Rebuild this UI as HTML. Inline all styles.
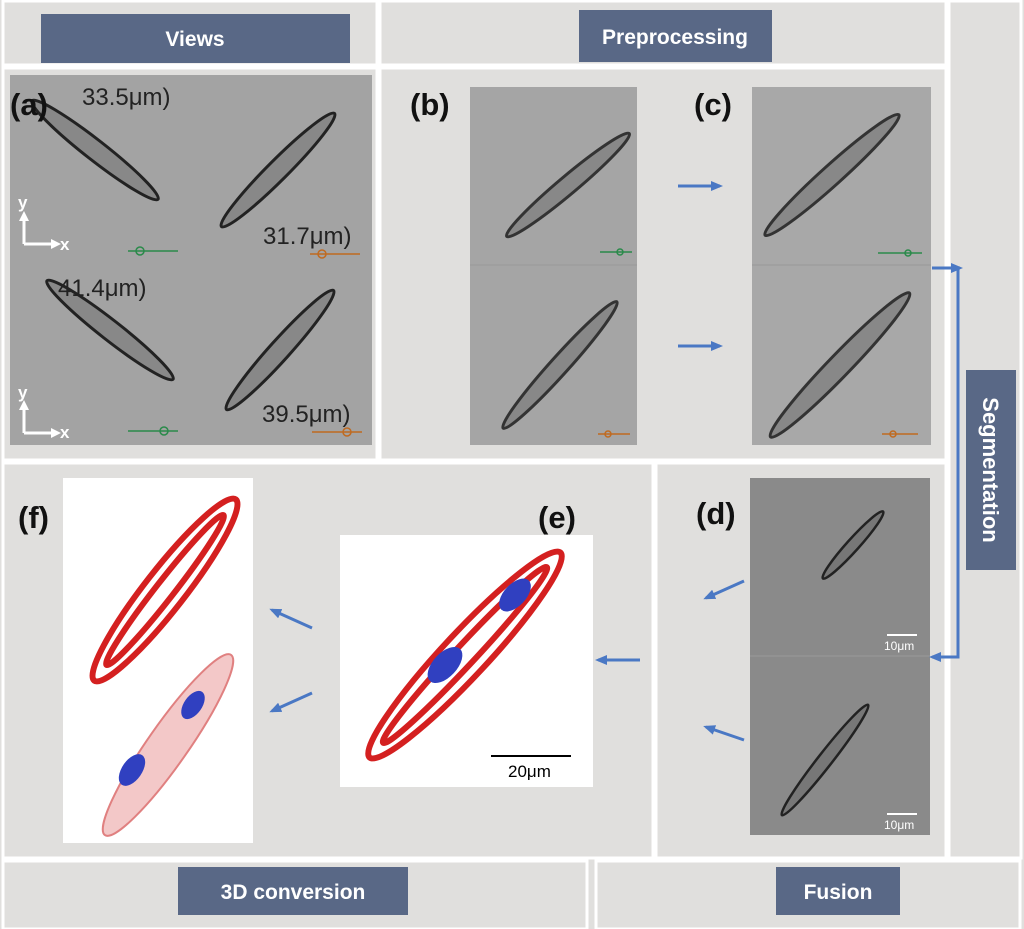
<!DOCTYPE html>
<html><head><meta charset="utf-8"><style>
html,body{margin:0;padding:0;background:#e0dfdd;}
svg{display:block;font-family:"Liberation Sans",Arial,sans-serif;}
</style></head><body>
<svg width="1024" height="929" viewBox="0 0 1024 929">
<rect width="1024" height="929" fill="#e0dfdd"/>
<g fill="none" stroke="#fff" stroke-width="3">
<rect x="3" y="1" width="374" height="64"/>
<rect x="380" y="1" width="566" height="64"/>
<rect x="3" y="68" width="374" height="392"/>
<rect x="380" y="68" width="566" height="392"/>
<rect x="3" y="463" width="650" height="395"/>
<rect x="656" y="463" width="290" height="395"/>
<rect x="3" y="861" width="584" height="68"/>
<rect x="596" y="861" width="424" height="68"/>
<rect x="949" y="1" width="72" height="857"/>
</g>
<g fill="#596886">
<rect x="41" y="14" width="309" height="49"/>
<rect x="579" y="10" width="193" height="52"/>
<rect x="178" y="867" width="230" height="48"/>
<rect x="776" y="867" width="124" height="48"/>
<rect x="966" y="370" width="50" height="200"/>
</g>
<g fill="#fff" font-weight="bold" font-size="21" text-anchor="middle">
<text x="195" y="46">Views</text>
<text x="675" y="44">Preprocessing</text>
<text x="293" y="899">3D conversion</text>
<text x="838" y="899">Fusion</text>
<text transform="translate(983,470) rotate(90)" y="0" font-size="22">Segmentation</text>
</g>
<rect x="10" y="75" width="362" height="370" fill="#a3a3a3"/>
<g stroke="#222" stroke-width="3" fill="#888">
<ellipse cx="95" cy="150" rx="80" ry="10" transform="rotate(38 95 150)"/>
<ellipse cx="278" cy="170" rx="80" ry="10" transform="rotate(-45 278 170)"/>
<ellipse cx="110" cy="330" rx="80" ry="10" transform="rotate(38 110 330)"/>
<ellipse cx="280" cy="350" rx="80" ry="10" transform="rotate(-48 280 350)"/>
</g>
<g font-size="24" fill="#222">
<text x="82" y="105">33.5μm)</text>
<text x="263" y="244">31.7μm)</text>
<text x="58" y="296">41.4μm)</text>
<text x="262" y="422">39.5μm)</text>
</g>
<text x="10" y="115" font-size="31" font-weight="bold" fill="#111">(a)</text>
<defs>
<marker id="ah" markerWidth="12" markerHeight="10" refX="9" refY="5" orient="auto" markerUnits="userSpaceOnUse"><path d="M0 0 L12 5 L0 10 Z" fill="#4a78c4"/></marker>
<marker id="wh" markerWidth="10" markerHeight="10" refX="7" refY="5" orient="auto" markerUnits="userSpaceOnUse"><path d="M0 0 L10 5 L0 10 Z" fill="#fff"/></marker>
</defs>
<g stroke="#fff" stroke-width="3" fill="none" marker-end="url(#wh)">
<path d="M24 244 V214"/><path d="M24 244 H58"/>
<path d="M24 433 V403"/><path d="M24 433 H58"/>
<path d="M487 128 V96"/><path d="M487 98 H520"/>
<path d="M487 324 V292"/><path d="M487 324 H520"/>
</g>
<g fill="#fff" font-weight="bold" font-size="17">
<text x="18" y="208">y</text><text x="60" y="250">x</text>
<text x="18" y="398">y</text><text x="60" y="438">x</text>
<text x="522" y="102">x</text><text x="472" y="123">-y</text>
<text x="480" y="283">y</text><text x="522" y="330">x</text>
</g>
<rect x="470" y="87" width="167" height="358" fill="#a5a5a5"/>
<rect x="752" y="87" width="179" height="358" fill="#a8a8a8"/>
<line x1="470" y1="265" x2="637" y2="265" stroke="#999"/>
<line x1="752" y1="265" x2="931" y2="265" stroke="#999"/>
<g stroke="#333" stroke-width="3" fill="#888">
<ellipse cx="568" cy="185" rx="80" ry="9" transform="rotate(-40 568 185)"/>
<ellipse cx="560" cy="365" rx="85" ry="9" transform="rotate(-48 560 365)"/>
<ellipse cx="832" cy="175" rx="90" ry="10" transform="rotate(-42 832 175)"/>
<ellipse cx="840" cy="365" rx="100" ry="11" transform="rotate(-46 840 365)"/>
</g>
<g font-size="31" font-weight="bold" fill="#111">
<text x="410" y="115">(b)</text>
<text x="694" y="115">(c)</text>
<text x="18" y="528">(f)</text>
<text x="538" y="528">(e)</text>
<text x="696" y="524">(d)</text>
</g>
<g stroke-width="1.5" fill="none">
<g stroke="#2a8a4a"><line x1="128" y1="251" x2="178" y2="251"/><circle cx="140" cy="251" r="4"/>
<line x1="128" y1="431" x2="178" y2="431"/><circle cx="164" cy="431" r="4"/>
<line x1="600" y1="252" x2="632" y2="252"/><circle cx="620" cy="252" r="3"/>
<line x1="878" y1="253" x2="922" y2="253"/><circle cx="908" cy="253" r="3"/></g>
<g stroke="#c06a20"><line x1="310" y1="254" x2="360" y2="254"/><circle cx="322" cy="254" r="4"/>
<line x1="312" y1="432" x2="362" y2="432"/><circle cx="347" cy="432" r="4"/>
<line x1="598" y1="434" x2="630" y2="434"/><circle cx="608" cy="434" r="3"/>
<line x1="882" y1="434" x2="918" y2="434"/><circle cx="893" cy="434" r="3"/></g>
</g>
<rect x="750" y="478" width="180" height="357" fill="#8a8a8a"/>
<line x1="750" y1="656" x2="930" y2="656" stroke="#9a9a9a"/>
<g stroke="#222" stroke-width="2.5" fill="#777">
<ellipse cx="853" cy="545" rx="45" ry="6" transform="rotate(-48 853 545)"/>
<ellipse cx="825" cy="760" rx="70" ry="7" transform="rotate(-52 825 760)"/>
</g>
<g fill="#fff" font-size="12" stroke="#fff">
<line x1="887" y1="635" x2="917" y2="635" stroke-width="2"/>
<text x="884" y="650" stroke="none">10μm</text>
<line x1="887" y1="814" x2="917" y2="814" stroke-width="2"/>
<text x="884" y="829" stroke="none">10μm</text>
</g>
<rect x="340" y="535" width="253" height="252" fill="#fff"/>
<g stroke="#d42020" stroke-width="6" fill="none">
<ellipse cx="465" cy="655" rx="140" ry="22" transform="rotate(-47 465 655)"/>
<ellipse cx="465" cy="655" rx="120" ry="10" transform="rotate(-47 465 655)"/>
</g>
<ellipse cx="445" cy="665" rx="22" ry="12" fill="#3040c0" transform="rotate(-47 445 665)"/>
<ellipse cx="515" cy="595" rx="20" ry="11" fill="#3040c0" transform="rotate(-47 515 595)"/>
<line x1="491" y1="756" x2="571" y2="756" stroke="#000" stroke-width="2"/>
<text x="508" y="777" font-size="17" fill="#000">20μm</text>
<rect x="63" y="478" width="190" height="365" fill="#fff"/>
<g stroke="#d42020" stroke-width="6" fill="none">
<ellipse cx="165" cy="590" rx="115" ry="20" transform="rotate(-52 165 590)"/>
<ellipse cx="165" cy="590" rx="95" ry="9" transform="rotate(-52 165 590)"/>
</g>
<ellipse cx="168" cy="745" rx="110" ry="20" fill="#f3c8c8" stroke="#e08080" stroke-width="2" transform="rotate(-55 168 745)"/>
<ellipse cx="132" cy="770" rx="18" ry="10" fill="#3040c0" transform="rotate(-55 132 770)"/>
<ellipse cx="193" cy="705" rx="16" ry="9" fill="#3040c0" transform="rotate(-55 193 705)"/>
<g stroke="#4a78c4" stroke-width="3" fill="none" marker-end="url(#ah)">
<line x1="678" y1="186" x2="720" y2="186"/>
<line x1="678" y1="346" x2="720" y2="346"/>
<line x1="744" y1="581" x2="706" y2="598"/>
<line x1="744" y1="740" x2="706" y2="727"/>
<line x1="640" y1="660" x2="598" y2="660"/>
<line x1="312" y1="628" x2="272" y2="610"/>
<line x1="312" y1="693" x2="272" y2="711"/>
<line x1="932" y1="268" x2="960" y2="268"/>
<polyline points="958,268 958,657 932,657"/>
</g>
</svg>
</body></html>
